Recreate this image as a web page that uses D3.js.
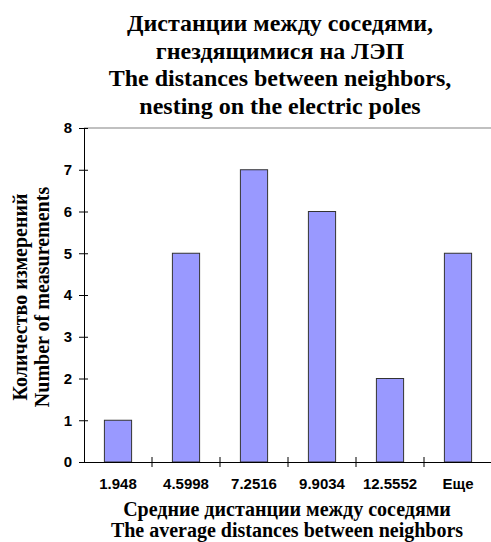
<!DOCTYPE html>
<html><head><meta charset="utf-8">
<script src="https://cdn.jsdelivr.net/npm/d3@7"></script>
<style>body{margin:0;background:#fff}svg{display:block}</style>
</head><body>
<svg id="c" width="491" height="542"></svg>
<script>
const categories = ["1.948", "4.5998", "7.2516", "9.9034", "12.5552", "Еще"];
const counts = [1, 5, 7, 6, 2, 5];
const yTicks = [0, 1, 2, 3, 4, 5, 6, 7, 8];
const titleLines = ["Дистанции между соседями,", "гнездящимися на ЛЭП", "The distances between neighbors,", "nesting on the electric poles"];
const xTitleLines = ["Средние дистанции между соседями", "The average distances between neighbors"];
const yTitleLines = ["Количество измерений", "Number of measurements"];

const svg = d3.select("#c");
const L = 84, R = 492, T = 128, B = 462;
const x = d3.scaleBand().domain(categories).range([L, R]);
const y = d3.scaleLinear().domain([0, 8]).range([B, T]);

// top border
svg.append("line").attr("x1", L).attr("x2", R).attr("y1", T).attr("y2", T)
  .attr("stroke", "#c0c0c0").attr("stroke-width", 2);

// bars
const bw = x.bandwidth() * 0.4;
svg.selectAll("rect.bar").data(counts).enter().append("rect")
  .attr("x", (d, i) => x(categories[i]) + (x.bandwidth() - bw) / 2)
  .attr("y", d => y(d))
  .attr("width", bw)
  .attr("height", d => B - y(d))
  .attr("fill", "#9999ff").attr("stroke", "#333").attr("stroke-width", 1);

// y axis
const ya = svg.append("g").attr("transform", `translate(${L},0)`)
  .call(d3.axisLeft(y).tickValues(yTicks).tickFormat(d3.format("d")).tickSizeInner(5).tickSizeOuter(0).tickPadding(7));
ya.select(".domain").attr("stroke", "#000");
ya.selectAll(".tick line").attr("stroke", "#000").attr("x2", 4).attr("x1", -5);
ya.selectAll("text").attr("font-family", "Liberation Sans, Arial, sans-serif").attr("font-weight", "bold").attr("font-size", 15).attr("fill", "#000");

// x axis
const xa = svg.append("g").attr("transform", `translate(0,${B})`)
  .call(d3.axisBottom(x).tickSize(0).tickPadding(16));
xa.select(".domain").attr("stroke", "#000");
xa.selectAll("text").attr("font-family", "Liberation Sans, Arial, sans-serif").attr("font-weight", "bold").attr("font-size", 15).attr("fill", "#000");
// category boundary ticks
const bounds = categories.map(c => x(c)).concat([R]);
svg.selectAll("line.xt").data(bounds.slice(1, 6)).enter().append("line")
  .attr("x1", d => d).attr("x2", d => d).attr("y1", B - 5).attr("y2", B + 5)
  .attr("stroke", "#000");

// title
svg.append("text").attr("x", 280).attr("y", 31)
  .attr("text-anchor", "middle").attr("font-family", "Liberation Serif, Times New Roman, serif")
  .attr("font-weight", "bold").attr("font-size", 24)
  .selectAll("tspan").data(titleLines).enter().append("tspan")
  .attr("x", 280).attr("dy", (d, i) => i === 0 ? 0 : 27.7).text(d => d);

// x title
svg.append("text").attr("x", 287).attr("y", 516)
  .attr("text-anchor", "middle").attr("font-family", "Liberation Serif, Times New Roman, serif")
  .attr("font-weight", "bold").attr("font-size", 20)
  .selectAll("tspan").data(xTitleLines).enter().append("tspan")
  .attr("x", 287).attr("dy", (d, i) => i === 0 ? 0 : 20.5).text(d => d);

// y title
svg.append("text").attr("transform", "translate(0,297) rotate(-90)")
  .attr("text-anchor", "middle").attr("font-family", "Liberation Serif, Times New Roman, serif")
  .attr("font-weight", "bold").attr("font-size", 20)
  .selectAll("tspan").data(yTitleLines).enter().append("tspan")
  .attr("x", 0).attr("y", (d, i) => 27 + i * 22).text(d => d);
</script>
</body></html>
